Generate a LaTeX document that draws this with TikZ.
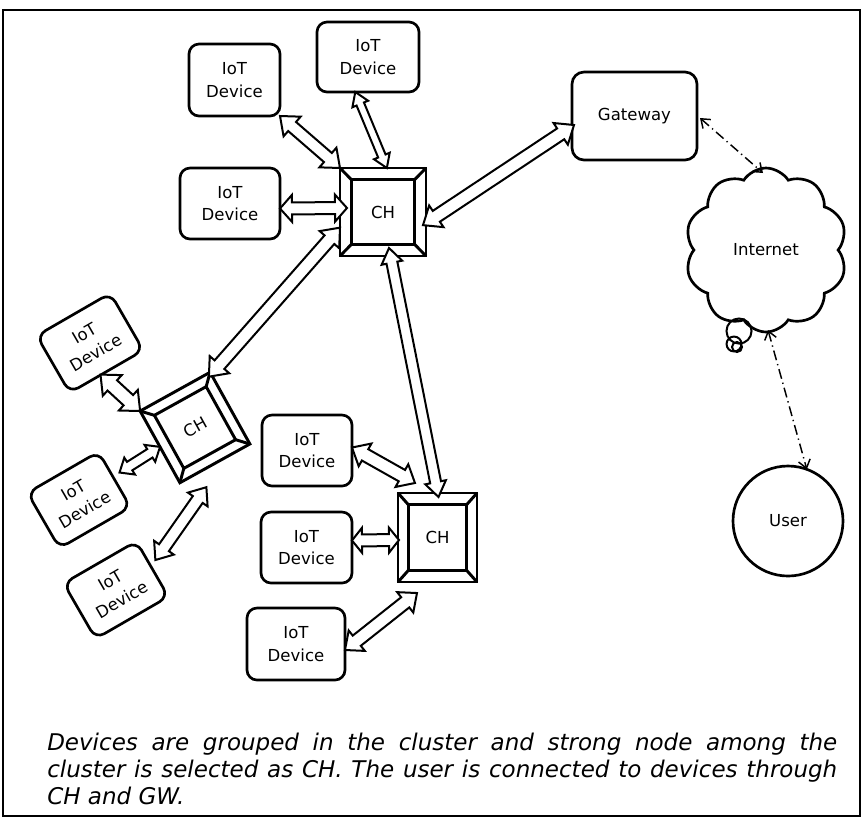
\documentclass[tikz,border=0pt]{standalone}
\usepackage{fontspec}
\setmainfont{DejaVu Sans}
\usetikzlibrary{arrows.meta,calc,shapes.symbols}
\tikzset{
 lbl/.style={font=\fontsize{12.4pt}{17pt}\selectfont, align=center, inner sep=0pt, outer sep=0pt},
 dev/.style={lbl, draw, line width=2pt, rounded corners=7.5pt},
 chbox/.style={lbl, draw, line width=2.2pt, line join=miter},
 blk/.style={draw, line width=1.5pt, fill=white, line join=miter, miter limit=6},
 ddash/.style={line width=1.1pt, dash pattern=on 7.5pt off 3pt on 1pt off 3pt, {Straight Barb[length=6pt,width=9pt]}-{Straight Barb[length=6pt,width=9pt]}},
 bevl/.style={line width=2.2pt, line join=miter},
}
\newcommand\dblarr[5]{%
 \path (#1); \pgfgetlastxy{\pAx}{\pAy}%
 \path (#2); \pgfgetlastxy{\pBx}{\pBy}%
 \pgfmathsetmacro\dang{atan2(\pBy-\pAy,\pBx-\pAx)}%
 \pgfmathsetmacro\dlen{veclen(\pBx-\pAx,\pBy-\pAy)}%
 \pgfmathsetmacro\dW{#3*0.375}%
 \pgfmathsetmacro\dH{#4*0.375}%
 \pgfmathsetmacro\dL{#5*0.75}%
 \pgfmathsetmacro\dM{\dlen-\dL}%
 \begin{scope}[shift={(\pAx,\pAy)}, rotate=\dang, x=1pt, y=1pt]
 \draw[blk] (0,0) -- (\dL,\dH) -- (\dL,\dW) -- (\dM,\dW) -- (\dM,\dH) -- (\dlen,0) -- (\dM,-\dH) -- (\dM,-\dW) -- (\dL,-\dW) -- (\dL,-\dH) -- cycle;
 \end{scope}}
\newcommand\bevel[2]{%
 \draw[bevl] ($(#1.north west)!#2!(#1.center)$) coordinate (#1-a) -- ($(#1.north east)!#2!(#1.center)$) coordinate (#1-b) -- ($(#1.south east)!#2!(#1.center)$) coordinate (#1-c) -- ($(#1.south west)!#2!(#1.center)$) coordinate (#1-d) -- cycle;
 \draw[bevl] (#1.north west) -- (#1-a) (#1.north east) -- (#1-b) (#1.south east) -- (#1-c) (#1.south west) -- (#1-d);}
\begin{document}
\begin{tikzpicture}[x=0.75pt,y=-0.75pt]
\useasboundingbox (0,0) rectangle (863,819);
\draw[line width=1.2pt] (3,10) rectangle (860,816);

% cluster heads
\node[chbox, minimum width=64.5pt, minimum height=66pt] (ch1) at (383,212) {CH};
\bevel{ch1}{0.26}
\node[chbox, minimum width=59.25pt, minimum height=66.75pt] (ch3) at (437.5,537.5) {CH};
\bevel{ch3}{0.26}
\node[chbox, minimum width=60pt, minimum height=61.5pt, rotate=29] (ch2) at (195,427.5) {CH};
\bevel{ch2}{0.26}

% devices
\node[dev, minimum width=68.25pt, minimum height=54pt] (dA) at (234.5,80) {IoT\\Device};
\node[dev, minimum width=76.5pt, minimum height=52.5pt] (dB) at (368,57) {IoT\\Device};
\node[dev, minimum width=75pt, minimum height=53.25pt] (dC) at (230,203.5) {IoT\\Device};
\node[dev, minimum width=67.5pt, minimum height=53.25pt] (dD) at (307,450.5) {IoT\\Device};
\node[dev, minimum width=68.25pt, minimum height=53.25pt] (dE) at (306.5,547.5) {IoT\\Device};
\node[dev, minimum width=73.5pt, minimum height=54pt] (dF) at (296,644) {IoT\\Device};
\node[dev, minimum width=63.75pt, minimum height=49.5pt, rotate=30] (dG) at (90,343) {IoT\\Device};
\node[dev, minimum width=61.5pt, minimum height=48pt, rotate=30] (dH) at (79,500) {IoT\\Device};
\node[dev, minimum width=63pt, minimum height=48pt, rotate=30] (dI) at (116,590) {IoT\\Device};

% gateway, internet, user
\node[dev, rounded corners=9pt, minimum width=93.75pt, minimum height=66pt] (gw) at (634.5,116) {Gateway};
\node[lbl, draw, line width=2pt, cloud, cloud puffs=10, cloud puff arc=115, cloud ignores aspect, minimum width=121.5pt, minimum height=123pt] (inet) at (766,250) {Internet};
\draw[line width=1.5pt] (739,331) circle[radius=9.4pt];
\draw[line width=1.5pt] (734,344) circle[radius=5.6pt];
\draw[line width=1.5pt] (737,347) circle[radius=3.75pt];
\node[lbl, draw, circle, line width=2pt, minimum size=82.5pt] (user) at (788,521) {User};

% block double arrows
\dblarr{dA.south east}{ch1.north west}{12}{26}{16}
\dblarr{dB.-110}{ch1.85}{8}{17}{13}
\dblarr{$(dC.east)+(0,5)$}{$(ch1.west)+(7,-4)$}{12}{27}{12}
\dblarr{$(ch1.-17)+(-3,0)$}{$(gw.west)+(2,9)$}{13}{26}{16}
\dblarr{$(ch1.south)+(6,-8)$}{$(ch3.north)+(1,4)$}{11}{21}{15}
\dblarr{ch1.200}{$(ch2.north east)!0.08!(ch2.center)$}{13}{26}{16}
\dblarr{$(dD.east)+(0,-3)$}{$(ch3.north west)+(17,-10)$}{13}{26}{15}
\dblarr{$(dE.east)+(0,-7)$}{$(ch3.west)+(1,2.5)$}{12}{25}{10}
\dblarr{$(dF.east)+(0,6)$}{$(ch3.south west)+(19,11)$}{13}{26}{15}
\dblarr{$(dG.south)+(-6,3)$}{ch2.north west}{14}{28}{16}
\dblarr{$(dH.east)+(5,-7)$}{ch2.west}{10}{20}{12}
\dblarr{$(dI.east)+(3,-9)$}{$(ch2.south west)!0.35!(ch2.south east)+(2,18)$}{12}{24}{15}

% dash-dot links
\draw[ddash] ($(gw.east)+(3,2)$) -- ($(inet.north)+(-3,5)$);
\draw[ddash] ($(inet.south)+(2,-2)$) -- (user.70);

% caption
\node[anchor=north west, inner sep=0pt, align=left, font=\fontsize{17.25pt}{20pt}\selectfont\itshape] (cap) at (47,733) {\makebox[592.5pt][s]{Devices are grouped in the cluster and strong node among the}\\\makebox[592.5pt][s]{cluster is selected as CH. The user is connected to devices through}\\CH and GW.};
\end{tikzpicture}
\end{document}
